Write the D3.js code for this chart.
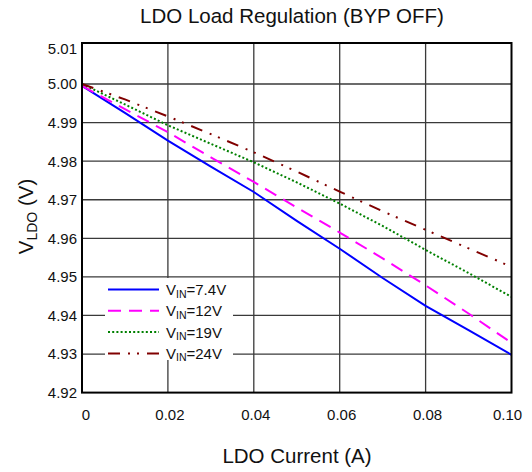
<!DOCTYPE html>
<html><head><meta charset="utf-8">
<script src="https://cdn.jsdelivr.net/npm/d3@7"></script>
<style>body{margin:0;background:#fff}svg{display:block;font-family:"Liberation Sans",Arial,sans-serif}</style>
</head><body>
<svg id="c" width="532" height="472"></svg>
<script>
const xValues = [0, 0.01, 0.02, 0.03, 0.04, 0.05, 0.06, 0.07, 0.08, 0.09, 0.10];
const vin74 = [4.9995, 4.9925, 4.9853, 4.9786, 4.9720, 4.9645, 4.9573, 4.9497, 4.9425, 4.9362, 4.9298];
const vin12 = [4.9995, 4.9935, 4.9875, 4.9810, 4.9746, 4.9680, 4.9615, 4.9548, 4.9478, 4.9405, 4.9329];
const vin19 = [5.0000, 4.9947, 4.9893, 4.9845, 4.9797, 4.9745, 4.9690, 4.9632, 4.9570, 4.9510, 4.9448];
const vin24 = [5.0000, 4.9960, 4.9916, 4.9870, 4.9823, 4.9773, 4.9721, 4.9670, 4.9622, 4.9574, 4.9526];
const seriesNames = ["7.4V", "12V", "19V", "24V"];
const xTicks = [0, 0.02, 0.04, 0.06, 0.08, 0.10];
const xTickLabels = ["0", "0.02", "0.04", "0.06", "0.08", "0.10"];
const yTicks = [4.92, 4.93, 4.94, 4.95, 4.96, 4.97, 4.98, 4.99, 5.00, 5.01];
const title = "LDO Load Regulation (BYP OFF)";
const xTitle = "LDO Current (A)";

const svg = d3.select("#c");
const L = 82, R = 511.5, T = 43, B = 392.6;
const x = d3.scaleLinear().domain([0, 0.10]).range([L, R]);
const y = d3.scaleLinear().domain([4.92, 5.00]).range([B, 84]);

// grid
const g = svg.append("g");
g.selectAll(".hg").data(yTicks.filter(v => v > 4.9201 && v < 5.005)).join("line")
  .attr("x1", L).attr("x2", R).attr("y1", d => y(d)).attr("y2", d => y(d))
  .attr("stroke", "#3a3a3a").attr("stroke-width", 1.3);
g.selectAll(".vg").data(xTicks.filter(v => v > 0 && v < 0.1)).join("line")
  .attr("x1", d => x(d)).attr("x2", d => x(d)).attr("y1", T).attr("y2", B)
  .attr("stroke", "#3a3a3a").attr("stroke-width", 1.3);

// y tick labels
svg.append("g").selectAll("text").data(yTicks).join("text")
  .attr("x", 77).attr("y", d => Math.max(y(d), 48.5)).attr("dy", "0.36em")
  .attr("text-anchor", "end").attr("font-size", 15).attr("fill", "#111")
  .text(d => d.toFixed(2));

// x tick labels
svg.append("g").selectAll("text").data(xTicks).join("text")
  .attr("x", (d, i) => x(d) + (i === 0 ? 4 : i === xTicks.length - 1 ? -4 : 2))
  .attr("y", 420).attr("text-anchor", "middle").attr("font-size", 15).attr("fill", "#111")
  .text((d, i) => xTickLabels[i]);

// series
const series = [
  {vals: vin74, color: "#0000ff", dash: null},
  {vals: vin12, color: "#ff00ff", dash: "13,8"},
  {vals: vin19, color: "#008000", dash: "2,2.2"},
  {vals: vin24, color: "#800000", dash: "12,8,2,7,2,8"}
];
const line = d3.line().x(d => x(d[0])).y(d => y(d[1]));
svg.append("g").selectAll("path").data(series).join("path")
  .attr("d", s => line(xValues.map((v, i) => [v, s.vals[i]])))
  .attr("fill", "none").attr("stroke", s => s.color).attr("stroke-width", 2)
  .attr("stroke-dasharray", s => s.dash);

// legend
const lg = svg.append("g");
lg.append("rect").attr("x", 105).attr("y", 278).attr("width", 128).attr("height", 82).attr("fill", "#fff");
series.forEach((s, i) => {
  const yy = 289.5 + i * 21.3;
  lg.append("line").attr("x1", 108).attr("x2", 159).attr("y1", yy).attr("y2", yy)
    .attr("stroke", s.color).attr("stroke-width", 2).attr("stroke-dasharray", s.dash);
  const t = lg.append("text").attr("x", 166).attr("y", yy + 5.5).attr("font-size", 15).attr("fill", "#111");
  t.append("tspan").text("V");
  t.append("tspan").attr("font-size", 10.5).attr("dy", 2.5).text("IN");
  t.append("tspan").attr("dy", -2.5).text("=" + seriesNames[i]);
});

// frame
svg.append("rect").attr("x", L).attr("y", T).attr("width", R - L).attr("height", B - T)
  .attr("fill", "none").attr("stroke", "#000").attr("stroke-width", 2);

// titles
svg.append("text").attr("x", 292).attr("y", 23).attr("text-anchor", "middle")
  .attr("font-size", 20.5).attr("fill", "#111").text(title);
svg.append("text").attr("x", 297).attr("y", 463).attr("text-anchor", "middle")
  .attr("font-size", 20.5).attr("fill", "#111").text(xTitle);
const yt = svg.append("text").attr("transform", "translate(33,216.5) rotate(-90)")
  .attr("text-anchor", "middle").attr("font-size", 20.5).attr("fill", "#111");
yt.append("tspan").text("V");
yt.append("tspan").attr("font-size", 14).attr("dy", 4).text("LDO");
yt.append("tspan").attr("dy", -4).text(" (V)");
</script>
</body></html>
